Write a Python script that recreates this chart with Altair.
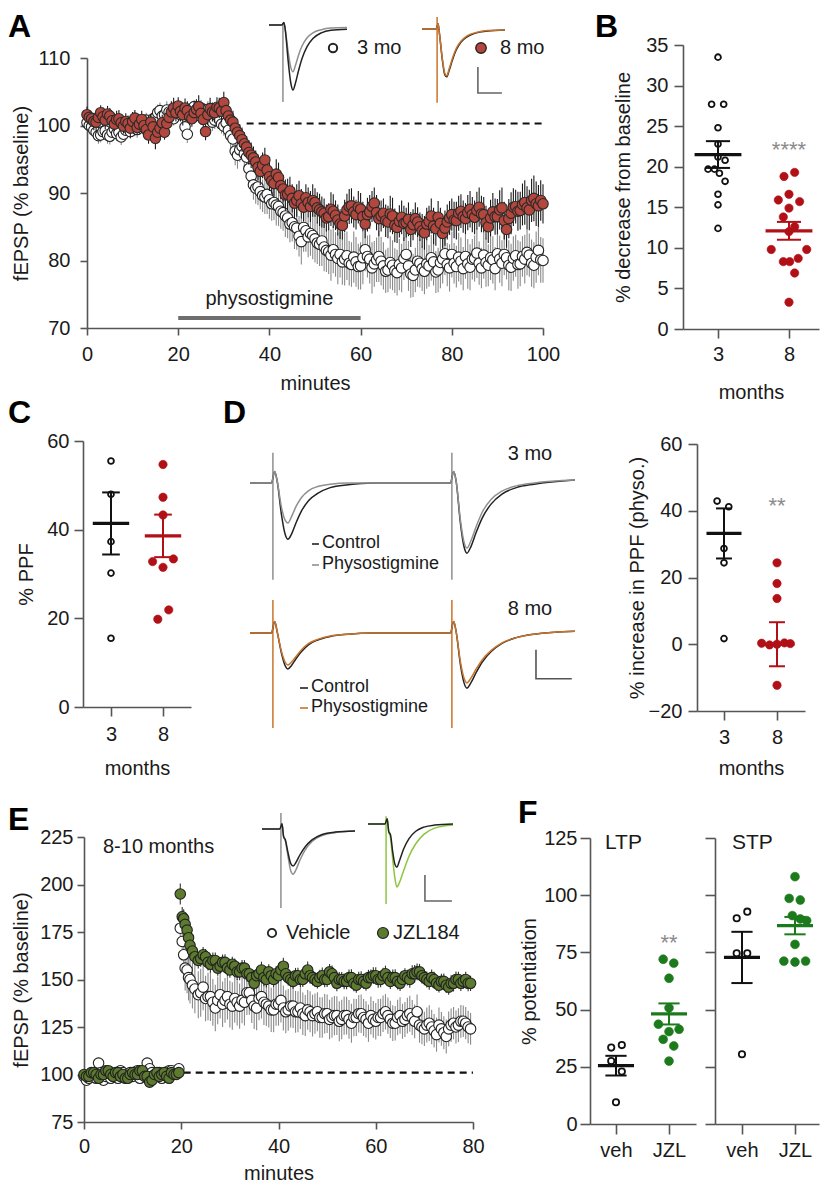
import altair as alt
import pandas as pd

FONT = "Liberation Sans"
INK = "#1a1a1a"
W, H = 812, 1170  # whole figure drawing area (page offset 8px)

# ================= Panel A: fEPSP time course (sampled every 0.5 min) =================
A_minutes = [i * 0.5 for i in range(201)]
A_3mo = [
    100.4, 100.0, 99.8, 99.3, 99.0, 98.5, 98.6, 99.1, 99.2, 98.6,
    98.4, 99.0, 99.5, 98.8, 99.0, 98.3, 98.7, 99.3, 99.6, 99.1,
    100.2, 99.7, 99.4, 100.0, 100.1, 100.6, 100.8, 100.1, 100.3, 101.0,
    101.2, 101.9, 102.2, 101.4, 101.6, 102.3, 102.0, 101.3, 101.0, 101.9,
    102.5, 101.6, 101.8, 99.8, 98.7, 101.4, 102.2, 102.8, 101.5, 102.1,
    102.6, 101.5, 101.9, 102.4, 101.2, 100.5, 100.8, 101.5, 100.9, 100.2,
    99.9, 100.4, 99.3, 98.5, 98.0, 96.2, 95.6, 96.4, 96.9, 95.8,
    95.3, 93.6, 92.5, 91.2, 90.7, 90.9, 90.2, 89.6, 89.4, 89.8,
    89.0, 88.4, 88.6, 88.2, 88.0, 87.3, 87.1, 86.6, 86.3, 85.4,
    85.6, 85.0, 84.8, 83.6, 82.8, 84.9, 84.4, 83.5, 84.0, 83.7,
    83.2, 82.6, 82.4, 82.9, 82.0, 81.5, 81.3, 80.8, 81.6, 80.9,
    80.3, 80.9, 79.8, 80.2, 80.7, 79.6, 79.4, 80.5, 79.8, 79.1,
    79.2, 80.4, 81.6, 80.6, 80.2, 78.9, 79.5, 80.1, 80.6, 79.9,
    79.2, 78.4, 78.6, 79.7, 79.3, 78.5, 78.2, 79.4, 78.9, 80.3,
    80.9, 79.2, 78.0, 77.8, 78.6, 79.9, 79.6, 78.8, 78.4, 79.5,
    79.2, 80.4, 79.8, 78.3, 78.6, 79.7, 80.2, 81.0, 79.4, 78.9,
    80.9, 79.6, 79.1, 80.5, 79.9, 78.8, 80.6, 79.5, 79.0, 80.2,
    80.3, 81.1, 79.6, 78.9, 80.8, 79.7, 79.3, 80.4, 80.1, 78.8,
    81.0, 80.2, 79.6, 80.9, 80.4, 79.3, 79.0, 80.3, 80.7, 79.4,
    79.5, 80.6, 80.2, 81.2, 80.8, 79.6, 79.3, 80.5, 81.5, 80.1,
    80.0,
]
A_3mo_sem = [
    0.9, 1.1, 1.0, 0.8, 0.8, 1.2, 1.1, 0.9, 0.9, 1.3,
    1.2, 0.9, 1.0, 1.1, 0.8, 1.2, 1.1, 0.9, 0.9, 1.0,
    1.0, 1.3, 1.2, 0.9, 0.9, 1.1, 1.1, 1.4, 1.3, 1.0,
    1.0, 1.2, 1.2, 0.9, 0.9, 1.3, 1.1, 1.0, 1.0, 1.2,
    1.2, 0.9, 1.0, 1.4, 1.3, 1.0, 1.1, 0.9, 0.9, 1.3,
    1.2, 1.0, 1.0, 1.2, 1.1, 1.3, 1.3, 1.1, 1.2, 1.4,
    1.4, 1.5, 1.6, 1.9, 1.8, 2.1, 2.0, 1.8, 1.9, 2.3,
    2.2, 2.5, 2.4, 2.2, 2.3, 2.7, 2.6, 2.4, 2.5, 2.9,
    2.8, 2.5, 2.6, 3.0, 2.9, 2.6, 2.7, 3.1, 3.0, 2.7,
    2.8, 3.3, 3.2, 3.0, 3.4, 3.6, 3.1, 3.0, 3.3, 3.5,
    3.5, 3.1, 3.2, 3.7, 3.6, 3.2, 3.3, 3.8, 3.5, 3.3,
    3.8, 3.4, 3.4, 3.9, 3.6, 3.3, 3.3, 3.8, 3.7, 3.4,
    3.5, 3.9, 3.2, 3.1, 3.6, 3.8, 3.4, 3.3, 3.8, 3.6,
    3.5, 3.2, 3.3, 3.9, 3.7, 3.3, 3.4, 3.8, 3.6, 3.2,
    3.2, 3.7, 3.5, 3.2, 3.3, 3.8, 3.6, 3.3, 3.4, 3.7,
    3.1, 3.4, 3.5, 3.1, 3.3, 3.8, 3.6, 3.2, 3.2, 3.5,
    3.4, 3.0, 3.1, 3.6, 3.5, 3.2, 3.3, 3.7, 3.4, 3.0,
    3.4, 3.7, 3.2, 3.0, 3.5, 3.6, 3.1, 3.3, 3.5, 3.2,
    3.0, 3.5, 3.4, 3.1, 3.2, 3.7, 3.5, 3.3, 3.1, 3.6,
    3.3, 3.0, 3.6, 3.4, 3.2, 3.5, 3.4, 3.8, 3.7, 3.4,
    3.3,
]
A_8mo = [
    101.6, 101.2, 101.0, 100.6, 100.5, 101.2, 101.9, 101.3, 100.8, 101.7,
    101.4, 100.7, 100.2, 100.9, 101.0, 100.4, 99.9, 100.6, 100.3, 99.6,
    100.6, 101.1, 99.7, 100.2, 100.9, 100.0, 99.4, 98.6, 100.5, 99.8,
    98.1, 99.0, 99.6, 100.4, 99.0, 100.3, 101.2, 102.0, 102.6, 101.9,
    102.9, 102.1, 101.6, 102.6, 102.2, 101.3, 101.0, 101.9, 102.4, 102.8,
    101.8, 100.9, 99.1, 101.6, 102.5, 102.0, 101.9, 102.7, 102.6, 102.1,
    103.4, 102.2, 101.4, 100.8, 100.5, 99.6, 99.0, 98.5, 97.9, 97.3,
    96.8, 96.0, 95.6, 95.2, 94.6, 93.8, 93.2, 94.1, 94.9, 93.4,
    92.4, 91.8, 91.4, 92.8, 92.3, 91.1, 90.6, 89.7, 89.8, 90.3,
    89.2, 88.5, 88.9, 89.6, 88.4, 87.9, 89.3, 88.6, 88.0, 88.9,
    88.6, 87.8, 87.5, 87.2, 87.0, 86.3, 86.5, 87.6, 87.3, 86.7,
    86.0, 85.4, 85.2, 86.6, 87.5, 88.0, 88.1, 87.2, 86.8, 87.9,
    87.6, 86.5, 85.4, 86.8, 87.2, 88.0, 88.5, 87.1, 86.2, 86.6,
    87.0, 85.9, 85.7, 86.9, 86.6, 85.2, 84.9, 85.8, 86.4, 85.5,
    85.6, 86.1, 84.6, 85.3, 86.2, 85.7, 85.0, 84.4, 84.1, 85.4,
    85.8, 86.6, 85.1, 84.7, 86.4, 85.5, 84.0, 84.8, 85.7, 86.3,
    86.8, 86.0, 85.9, 87.0, 87.3, 86.5, 86.2, 87.1, 87.6, 86.8,
    86.4, 87.4, 87.9, 86.9, 86.8, 85.6, 85.0, 86.3, 87.2, 86.5,
    86.5, 87.5, 87.8, 85.9, 84.6, 86.2, 87.0, 87.9, 88.0, 87.3,
    87.4, 88.3, 88.6, 87.8, 87.5, 88.9, 89.2, 88.4, 88.1, 88.9,
    88.4,
]
A_8mo_sem = [
    1.2, 1.1, 1.0, 1.3, 1.3, 1.0, 1.1, 1.4, 1.4, 1.2,
    1.2, 1.0, 1.0, 1.3, 1.3, 1.1, 1.1, 1.2, 1.2, 1.5,
    1.4, 1.2, 1.1, 1.4, 1.3, 1.5, 1.5, 1.3, 1.2, 1.4,
    1.6, 1.3, 1.3, 1.2, 1.1, 1.5, 1.4, 1.6, 1.5, 1.3,
    1.3, 1.5, 1.6, 1.4, 1.4, 1.2, 1.2, 1.6, 1.5, 1.7,
    1.7, 1.4, 1.3, 1.5, 1.6, 1.4, 1.4, 1.5, 1.5, 1.6,
    1.6, 1.5, 1.4, 1.6, 1.7, 1.6, 1.5, 1.7, 1.8, 1.7,
    1.6, 1.8, 1.9, 1.7, 1.7, 1.9, 2.0, 1.9, 1.8, 2.0,
    2.1, 1.9, 1.9, 2.2, 2.2, 2.0, 2.0, 2.3, 2.3, 2.1,
    2.1, 2.3, 2.4, 2.2, 2.2, 2.1, 2.0, 2.2, 2.3, 2.4,
    2.1, 2.3, 2.4, 2.3, 2.2, 2.0, 2.0, 2.5, 2.5, 2.2,
    2.3, 2.2, 2.1, 2.4, 2.4, 2.6, 2.6, 2.3, 2.2, 2.4,
    2.4, 2.2, 2.1, 2.5, 2.5, 2.3, 2.3, 2.6, 2.6, 2.3,
    2.2, 2.4, 2.4, 2.7, 2.7, 2.5, 2.3, 2.4, 2.5, 2.6,
    2.2, 2.5, 2.6, 2.3, 2.4, 2.2, 2.1, 2.5, 2.5, 2.4,
    2.3, 2.6, 2.7, 2.5, 2.4, 2.3, 2.2, 2.6, 2.6, 2.5,
    2.4, 2.7, 2.8, 2.6, 2.5, 2.4, 2.3, 2.6, 2.7, 2.6,
    2.5, 2.8, 2.9, 2.7, 2.6, 2.5, 2.4, 2.7, 2.8, 2.7,
    2.6, 2.9, 3.0, 2.8, 2.7, 2.9, 3.1, 2.8, 2.5, 2.9,
    2.8, 3.1, 3.3, 3.2, 3.0, 3.2, 3.4, 3.3, 3.1, 3.0,
    2.9,
]
A_baseline = {"from": [35], "to": [100], "level": [100.3]}
A_drug = {"start": [20], "end": [60], "level": [71.5], "label_level": [74.3], "label": ["physostigmine"]}

AL_t = [-5.8, -0.4, 0.4, 1.0, 2.2, 3.3, 4.2, 5.2, 6.5, 8.0, 10.0, 12.5, 16.0, 20.0, 26.7]
AL_ctrl = [0.0, 0.0, 0.05, -0.1, -0.7, -1.12, -1.25, -1.12, -0.88, -0.64, -0.42, -0.26, -0.15, -0.1, -0.08]
AL_phys = [0.0, 0.0, 0.05, -0.1, -0.52, -0.82, -0.9, -0.78, -0.58, -0.4, -0.25, -0.15, -0.09, -0.06, -0.05]
AL_art = {"t": [0.0], "top": [0.02], "bot": [-1.48]}
AR_t = [-6.3, -0.4, 0.4, 1.0, 2.2, 3.2, 4.0, 5.0, 6.5, 8.0, 10.0, 12.5, 16.0, 21.0, 28.3]
AR_ctrl = [0.0, 0.0, 0.1, -0.1, -0.6, -0.88, -0.92, -0.8, -0.58, -0.4, -0.25, -0.15, -0.08, -0.04, -0.02]
AR_phys = [0.0, 0.0, 0.1, -0.1, -0.58, -0.85, -0.9, -0.77, -0.55, -0.37, -0.23, -0.13, -0.07, -0.03, -0.02]
AR_art = {"t": [0.0], "top": [0.23], "bot": [-1.42]}
AR_bar = {"t": [17.0, 17.0, 27.0], "v": [-0.73, -1.23, -1.23]}

# ================= Panel B =================
B_3mo = [33.5, 27.7, 27.7, 24.8, 22.8, 21.2, 20.8, 19.7, 19.7, 19.2, 18.2, 16.6, 15.3, 12.4]
B_3mo_jit = [0, -0.09, 0.08, 0, 0, 0, 0.1, -0.14, -0.05, 0.02, 0.1, 0, 0, 0]
B_8mo = [18.8, 19.3, 15.9, 16.6, 15.7, 13.8, 14.9, 12.6, 12.0, 9.8, 8.3, 8.3, 8.7, 9.8, 6.9, 3.3]
B_8mo_jit = [-0.07, 0.08, -0.15, 0, 0.15, -0.08, 0.0, 0.08, 0.0, -0.25, -0.08, 0.01, 0.13, 0.25, 0.08, 0]
B_mean = [21.5, 12.1]
B_sem = [1.65, 1.1]

# ================= Panel C =================
C_3mo = [55.5, 48.0, 37.3, 30.2, 15.5]
C_3mo_jit = [0, 0, 0, 0, 0]
C_8mo = [54.7, 47.3, 43.3, 32.8, 33.4, 31.5, 19.8, 21.9]
C_8mo_jit = [0, 0, 0, -0.2, 0.2, 0, -0.1, 0.11]
C_mean = [41.4, 38.6]
C_sem = [7.0, 4.8]

# ================= Panel D traces (ms, mV) =================
D_t = [-6.4, -0.4, 0.5, 1.2, 2.4, 3.4, 4.2, 5.2, 6.5, 8.0, 10.0, 12.5, 16.0, 21.0, 28.0,
       49.6, 50.5, 51.2, 52.4, 53.4, 54.2, 55.3, 56.8, 58.5, 61.0, 64.0, 68.0, 73.0, 84.4]
D3_ctrl = [0.0, 0.0, 0.2, 0.03, -0.55, -0.88, -0.97, -0.88, -0.68, -0.48, -0.30, -0.18, -0.08, -0.03, 0.0,
           0.0, 0.2, 0.03, -0.7, -1.1, -1.21, -1.1, -0.85, -0.6, -0.36, -0.19, -0.08, -0.02, 0.05]
D3_phys = [0.0, 0.0, 0.2, 0.03, -0.42, -0.64, -0.69, -0.58, -0.40, -0.25, -0.13, -0.06, -0.02, 0.0, 0.0,
           0.0, 0.2, 0.03, -0.65, -1.02, -1.12, -1.0, -0.75, -0.5, -0.28, -0.14, -0.05, 0.0, 0.05]
D8_ctrl = [0.0, 0.0, 0.2, 0.02, -0.35, -0.56, -0.62, -0.56, -0.44, -0.32, -0.2, -0.12, -0.06, -0.02, 0.0,
           0.0, 0.2, 0.02, -0.55, -0.86, -0.95, -0.86, -0.68, -0.5, -0.32, -0.18, -0.08, -0.02, 0.03]
D8_phys = [0.0, 0.0, 0.2, 0.02, -0.32, -0.5, -0.55, -0.5, -0.4, -0.29, -0.18, -0.11, -0.05, -0.02, 0.0,
           0.0, 0.2, 0.02, -0.5, -0.78, -0.86, -0.78, -0.62, -0.46, -0.3, -0.17, -0.08, -0.02, 0.03]
D3_art = {"t": [0.0, 50.0], "top": [0.52, 0.52], "bot": [-1.67, -1.67]}
D8_art = {"t": [0.0, 50.0], "top": [0.57, 0.57], "bot": [-1.64, -1.64]}
D_bar = {"t": [73.5, 73.5, 83.5], "v": [-0.29, -0.79, -0.79]}

# ================= Panel D scatter =================
D_3mo = [42.9, 41.2, 28.7, 24.4, 1.7]
D_3mo_jit = [-0.13, 0.09, 0, 0, 0]
D_8mo = [24.4, 18.2, 13.7, 0.3, -0.2, 0.0, 0.4, 0.2, -12.3]
D_8mo_jit = [0, 0, 0, -0.29, -0.14, 0, 0.14, 0.25, 0]
D_mean = [33.2, 0.0]
D_sem = [7.5, 6.6]

# ================= Panel E: LTP time course =================
E_minutes = ([i * 0.5 for i in range(40)]
             + [19.8, 20.2, 20.5, 20.8, 21.2, 21.5, 21.8, 22.3, 22.8, 23.5]
             + [24 + i * 0.5 for i in range(112)])
E_veh = [
    99, 97, 98, 100, 100, 98, 106, 101, 97, 99,
    101, 98, 99, 100, 98, 102, 101, 99, 100, 101,
    99, 100, 102, 98, 100, 101, 106, 103, 101, 99,
    99, 101, 98, 100, 100, 102, 102, 100, 101, 103,
    177, 170, 163, 156, 155, 151, 150, 147, 145, 142,
    143, 146, 140, 141, 141, 138, 135, 139, 142, 137,
    139, 141, 137, 136, 140, 138, 136, 139, 138, 143,
    143, 139, 136, 135, 140, 141, 138, 137, 136, 134,
    134, 137, 137, 139, 135, 133, 134, 136, 136, 133,
    133, 135, 132, 131, 134, 133, 131, 132, 133, 130,
    130, 132, 132, 129, 130, 131, 131, 128, 129, 131,
    131, 129, 127, 130, 130, 132, 132, 130, 129, 127,
    131, 129, 128, 130, 130, 132, 133, 131, 129, 127,
    127, 130, 131, 128, 129, 131, 132, 130, 128, 133,
    126, 125, 124, 126, 127, 125, 123, 121, 126, 124,
    122, 120, 124, 126, 127, 125, 126, 128, 128, 127,
    125, 124,
]
E_veh_sem = [
    2.2, 2.4, 2.5, 2.1, 2.0, 2.6, 2.8, 2.3, 2.3, 2.0,
    2.1, 2.5, 2.6, 2.2, 2.4, 2.0, 2.0, 2.7, 2.7, 2.3,
    2.2, 2.4, 2.5, 2.1, 2.3, 2.6, 2.9, 2.4, 2.1, 2.2,
    2.4, 2.3, 2.6, 2.2, 2.2, 2.5, 2.5, 2.1, 2.3, 2.4,
    9.0, 10.0, 11.0, 11.8, 12.2, 12.0, 12.6, 12.2, 12.8, 12.4,
    12.6, 12.2, 12.0, 12.5, 12.8, 12.3, 12.2, 12.6, 12.5, 12.0,
    11.8, 12.1, 12.3, 12.5, 12.7, 12.2, 11.9, 12.0, 12.2, 11.7,
    11.6, 11.9, 12.1, 11.7, 11.4, 11.6, 11.9, 11.5, 11.2, 11.6,
    11.7, 11.4, 11.3, 11.6, 11.8, 11.3, 11.0, 11.2, 11.5, 11.0,
    10.8, 11.1, 11.2, 10.8, 10.5, 10.8, 11.0, 10.6, 10.3, 10.6,
    10.7, 10.4, 10.1, 10.4, 10.6, 10.3, 10.2, 10.5, 10.4, 10.1,
    9.9, 10.2, 10.3, 9.9, 9.7, 9.9, 10.1, 9.8, 9.5, 9.8,
    10.0, 9.7, 9.6, 9.8, 9.9, 9.6, 9.3, 9.5, 9.8, 9.4,
    9.1, 9.4, 9.6, 9.2, 9.2, 9.4, 9.5, 9.2, 8.9, 9.1,
    9.3, 9.1, 9.0, 9.2, 9.4, 9.1, 8.8, 9.0, 9.2, 8.9,
    8.7, 8.9, 9.1, 8.8, 8.5, 8.7, 8.9, 8.6, 8.3, 8.5,
    8.6, 8.4,
]
E_jzl = [
    100, 99, 99, 101, 101, 100, 98, 100, 100, 102,
    102, 100, 99, 101, 101, 99, 100, 98, 98, 100,
    101, 100, 100, 102, 102, 99, 99, 96, 97, 100,
    101, 99, 100, 101, 99, 98, 101, 100, 100, 101,
    195, 183, 182, 179, 176, 172, 168, 165, 162, 160,
    161, 163, 162, 159, 158, 160, 160, 156, 157, 159,
    159, 156, 155, 158, 157, 154, 154, 156, 156, 153,
    153, 151, 148, 152, 153, 155, 151, 150, 154, 152,
    150, 153, 152, 155, 157, 153, 151, 150, 149, 152,
    152, 150, 150, 153, 155, 152, 151, 150, 149, 151,
    152, 150, 150, 154, 153, 151, 148, 150, 150, 149,
    149, 151, 151, 148, 147, 150, 150, 149, 148, 151,
    151, 152, 152, 150, 150, 152, 153, 151, 149, 151,
    151, 149, 148, 150, 152, 151, 150, 153, 153, 154,
    154, 152, 151, 150, 149, 151, 150, 148, 147, 149,
    149, 147, 146, 148, 148, 150, 150, 148, 149, 150,
    148, 148,
]
E_jzl_sem = [
    2.0, 1.9, 1.8, 2.1, 2.2, 2.0, 1.9, 2.2, 2.1, 1.8,
    1.7, 2.0, 2.0, 2.3, 2.3, 1.9, 1.8, 2.1, 2.1, 1.9,
    1.9, 2.2, 2.2, 1.9, 2.0, 1.8, 1.8, 2.3, 2.4, 2.1,
    2.1, 1.9, 1.9, 2.0, 2.0, 2.2, 2.2, 1.9, 1.8, 2.0,
    5.5, 5.2, 5.0, 4.8, 4.6, 4.5, 4.4, 4.3, 4.4, 4.2,
    4.3, 4.1, 4.0, 4.3, 4.4, 4.2, 4.2, 4.0, 3.9, 4.2,
    4.3, 4.1, 4.1, 4.0, 4.0, 4.3, 4.4, 4.2, 4.2, 4.0,
    3.9, 4.2, 4.3, 4.1, 4.1, 4.4, 4.5, 4.2, 4.0, 4.1,
    4.2, 4.0, 3.8, 4.1, 4.4, 4.3, 4.1, 4.0, 3.9, 4.1,
    4.2, 4.0, 4.0, 4.3, 4.5, 4.2, 4.1, 3.9, 3.8, 4.1,
    4.3, 4.1, 4.0, 4.2, 4.4, 4.3, 4.2, 4.0, 3.9, 4.1,
    4.1, 4.3, 4.4, 4.2, 4.0, 4.1, 4.3, 4.0, 3.9, 4.1,
    4.2, 4.4, 4.5, 4.3, 4.1, 4.2, 4.3, 4.1, 4.0, 4.2,
    4.4, 4.2, 4.1, 4.0, 3.9, 4.1, 4.3, 4.5, 4.6, 4.4,
    4.2, 4.1, 4.0, 4.2, 4.4, 4.3, 4.1, 3.9, 3.8, 4.0,
    4.2, 4.1, 4.0, 4.2, 4.3, 4.2, 4.1, 4.0, 3.9, 4.1,
    4.2, 4.0,
]
E_baseline = {"from": [20.5], "to": [80], "level": [101]}

EL_t = [-7.0, -0.4, 0.4, 1.0, 1.6, 2.6, 3.6, 4.5, 5.6, 7.0, 9.0, 11.5, 15.0, 20.0, 27.4]
EL_ctrl = [0.0, 0.0, 0.1, -0.15, -0.2, -0.45, -0.66, -0.71, -0.64, -0.5, -0.34, -0.21, -0.11, -0.06, -0.04]
EL_post = [0.0, 0.0, 0.1, -0.15, -0.22, -0.52, -0.8, -0.87, -0.78, -0.6, -0.4, -0.24, -0.13, -0.07, -0.04]
EL_art = {"t": [0.0], "top": [0.31], "bot": [-1.52]}
ER_t = [-6.7, -0.4, 0.4, 1.0, 1.6, 2.5, 3.3, 4.0, 5.0, 6.5, 8.5, 11.0, 14.0, 18.0, 24.8]
ER_ctrl = [0.0, 0.0, 0.1, -0.15, -0.2, -0.55, -0.78, -0.83, -0.7, -0.48, -0.28, -0.14, -0.06, -0.02, 0.0]
ER_post = [0.0, 0.0, 0.1, -0.15, -0.25, -0.7, -1.05, -1.21, -1.12, -0.9, -0.62, -0.38, -0.2, -0.08, -0.02]
ER_art = {"t": [0.0], "top": [0.15], "bot": [-1.54]}
ER_bar = {"t": [14.4, 14.4, 24.4], "v": [-0.98, -1.48, -1.48]}

# ================= Panel F =================
LTP_veh = [33.4, 34.5, 27.5, 22.9, 9.5]
LTP_veh_jit = [-0.09, 0.11, -0.09, 0.11, 0]
LTP_jzl = [72.0, 70.3, 63.7, 50.8, 43.6, 40.4, 41.4, 37.0, 34.1, 27.5]
LTP_jzl_jit = [-0.11, 0.09, 0, 0, -0.2, 0, 0.19, -0.11, 0.09, 0]
LTP_mean = [25.5, 48.1]
LTP_sem = [4.3, 4.6]
STP_veh = [89.9, 92.8, 74.6, 74.6, 30.5]
STP_veh_jit = [-0.1, 0.1, -0.1, 0.1, 0]
STP_jzl = [108.1, 98.6, 97.9, 91.1, 89.6, 88.9, 78.5, 71.2, 70.8, 71.2]
STP_jzl_jit = [0, -0.11, 0.1, -0.05, 0.1, 0.22, 0, -0.21, 0, 0.2]
STP_mean = [72.8, 86.7]
STP_sem = [11.2, 3.8]

# ================= colours =================
RED_A = "#b3463d"
OLIVE = "#5c7b2e"
RED = "#b01016"
GREEN = "#1c7a1c"
GRAY_TR = "#8f8f8f"
ORANGE = "#c8742c"
LGREEN = "#8cc63f"
STAR = "#8a8a8a"
U = alt.Undefined


# ================= helpers =================
def one():
    return alt.Data(values=[{}])


def txt(s, x, y, size=20, color=INK, align="left", baseline="middle", weight="normal"):
    return alt.Chart(one()).mark_text(
        text=s, font=FONT, fontSize=size, color=color, align=align,
        baseline=baseline, fontWeight=weight
    ).encode(x=alt.value(x), y=alt.value(y))


def letter(ch, x, y):
    return txt(ch, x, y, size=32, color="black", baseline="top", weight="bold")


def glyph(x, y, fill, stroke, size, sw):
    return alt.Chart(one()).mark_point(
        shape="circle", filled=True, fill=fill, stroke=stroke, strokeWidth=sw, size=size, opacity=1
    ).encode(x=alt.value(x), y=alt.value(y))


def dash(x1, x2, y, color):
    return alt.Chart(one()).mark_rule(color=color, strokeWidth=1.6).encode(
        x=alt.value(x1), x2=alt.value(x2), y=alt.value(y))


def axes(xr, yr, xkw, ykw):
    ax_x = alt.Axis(orient="bottom", offset=yr[0] - H, **xkw)
    ax_y = alt.Axis(orient="left", offset=-xr[0], **ykw)
    return ax_x, ax_y


def trace(t, v, color, xs, ys, width=1.5):
    df = pd.DataFrame({"t": t, "v": v})
    return alt.Chart(df).mark_line(color=color, strokeWidth=width, interpolate="monotone").encode(
        x=alt.X("t:Q", scale=xs, axis=None), y=alt.Y("v:Q", scale=ys, axis=None))


def artifact(d, color, xs, ys, width=1.5):
    df = pd.DataFrame(d)
    return alt.Chart(df).mark_rule(color=color, strokeWidth=width).encode(
        x=alt.X("t:Q", scale=xs, axis=None), y=alt.Y("top:Q", scale=ys, axis=None), y2="bot:Q")


def scalebar(d, xs, ys, color="#666666"):
    df = pd.DataFrame(d)
    df["i"] = range(len(df))
    return alt.Chart(df).mark_line(color=color, strokeWidth=1.6).encode(
        x=alt.X("t:Q", scale=xs, axis=None), y=alt.Y("v:Q", scale=ys, axis=None),
        order=alt.Order("i:Q"))


def ts_pair(t, v, sem, xs, ys, fill, stroke, errc, size=110, ax_x=U, ax_y=U):
    df = pd.DataFrame({"t": t, "v": v, "sem": sem})
    err = (alt.Chart(df)
           .transform_calculate(lo="datum.v - datum.sem", hi="datum.v + datum.sem")
           .mark_rule(color=errc, strokeWidth=1.1)
           .encode(x=alt.X("t:Q", scale=xs, axis=ax_x),
                   y=alt.Y("lo:Q", scale=ys, axis=ax_y), y2="hi:Q"))
    pts = (alt.Chart(df)
           .mark_point(shape="circle", filled=True, fill=fill, stroke=stroke,
                       strokeWidth=1.1, size=size, opacity=1)
           .encode(x=alt.X("t:Q", scale=xs), y=alt.Y("v:Q", scale=ys)))
    return [err, pts]


def hline(d, xs, ys, color="#111111", width=2.2):
    df = pd.DataFrame(d)
    return alt.Chart(df).mark_rule(color=color, strokeWidth=width, strokeDash=[7, 5]).encode(
        x=alt.X("from:Q", scale=xs), x2="to:Q", y=alt.Y("level:Q", scale=ys))


def dot_panel(v0, j0, v1, j1, means, sems, col0, col1, xdom, xr, ydom, yr, xkw, ykw,
              bar_half, cap_half, star=None, osize=34, fsize=70):
    xs = alt.Scale(domain=xdom, range=xr, nice=False, zero=False)
    ys = alt.Scale(domain=ydom, range=yr, nice=False, zero=False)
    ax_x, ax_y = axes(xr, yr, xkw, ykw)
    layers = []
    for g, (vals, jit, col) in enumerate([(v0, j0, col0), (v1, j1, col1)]):
        df = pd.DataFrame({"g": [g] * len(vals), "v": vals, "jit": jit})
        if g == 0:
            mk = dict(fill="white", stroke=col, strokeWidth=1.8, size=osize)
        else:
            mk = dict(fill=col, stroke=col, strokeWidth=0.6, size=fsize)
        layers.append(
            alt.Chart(df).transform_calculate(pos="datum.g + datum.jit")
            .mark_point(shape="circle", filled=True, opacity=1, **mk)
            .encode(x=alt.X("pos:Q", scale=xs, axis=ax_x if g == 0 else U),
                    y=alt.Y("v:Q", scale=ys, axis=ax_y if g == 0 else U)))
    for g, col in enumerate([col0, col1]):
        mdf = pd.DataFrame({"g": [g], "m": [means[g]], "s": [sems[g]]})
        base = alt.Chart(mdf).transform_calculate(
            lo="datum.m - datum.s", hi="datum.m + datum.s",
            b1=f"datum.g - {bar_half}", b2=f"datum.g + {bar_half}",
            c1=f"datum.g - {cap_half}", c2=f"datum.g + {cap_half}")
        layers += [
            base.mark_rule(strokeWidth=2, color=col).encode(
                x=alt.X("g:Q", scale=xs), y=alt.Y("lo:Q", scale=ys), y2="hi:Q"),
            base.mark_rule(strokeWidth=2, color=col).encode(
                x=alt.X("c1:Q", scale=xs), x2="c2:Q", y=alt.Y("lo:Q", scale=ys)),
            base.mark_rule(strokeWidth=2, color=col).encode(
                x=alt.X("c1:Q", scale=xs), x2="c2:Q", y=alt.Y("hi:Q", scale=ys)),
            base.mark_rule(strokeWidth=3.2, color=col).encode(
                x=alt.X("b1:Q", scale=xs), x2="b2:Q", y=alt.Y("m:Q", scale=ys)),
        ]
    if star is not None:
        sdf = pd.DataFrame({"g": [star[1]], "y": [star[2]], "lab": [star[0]]})
        layers.append(alt.Chart(sdf).mark_text(font=FONT, fontSize=22, color=STAR, baseline="middle", dy=6)
                      .encode(x=alt.X("g:Q", scale=xs), y=alt.Y("y:Q", scale=ys), text="lab:N"))
    return alt.layer(*layers)


# ================= Panel A =================
xrA, yrA = [79, 535], [320, 50]
xA = alt.Scale(domain=[0, 100], range=xrA, nice=False, zero=False)
yA = alt.Scale(domain=[70, 110], range=yrA, nice=False, zero=False)
axA_x, axA_y = axes(xrA, yrA,
                    dict(values=[0, 20, 40, 60, 80, 100], title="minutes", titleY=45, tickSize=7, labelPadding=9),
                    dict(values=[70, 80, 90, 100, 110], title="fEPSP (% baseline)", titleX=-56, tickSize=7,
                         labelPadding=10))
drug_df = pd.DataFrame(A_drug)
A_main = alt.layer(
    *ts_pair(A_minutes, A_3mo, A_3mo_sem, xA, yA, "white", "#222222", "#8a8a8a", ax_x=axA_x, ax_y=axA_y),
    hline(A_baseline, xA, yA),
    *ts_pair(A_minutes, A_8mo, A_8mo_sem, xA, yA, RED_A, "#2a2a2a", "#1a1a1a"),
    alt.Chart(drug_df).mark_rule(color="#6e6e6e", strokeWidth=4).encode(
        x=alt.X("start:Q", scale=xA), x2="end:Q", y=alt.Y("level:Q", scale=yA)),
    alt.Chart(drug_df).transform_calculate(mid="(datum.start + datum.end) / 2")
    .mark_text(font=FONT, fontSize=20, color=INK, baseline="middle")
    .encode(x=alt.X("mid:Q", scale=xA), y=alt.Y("label_level:Q", scale=yA), text="label:N"),
)
xAL = alt.Scale(domain=[-5.8, 26.7], range=[261, 339], nice=False, zero=False)
yAL = alt.Scale(domain=[-1.6, 0.4], range=[100.2, -3.8], nice=False, zero=False)
xAR = alt.Scale(domain=[-6.3, 28.3], range=[414, 497], nice=False, zero=False)
yAR = alt.Scale(domain=[-1.6, 0.4], range=[104.2, 0.2], nice=False, zero=False)
A_insL = alt.layer(
    artifact(AL_art, GRAY_TR, xAL, yAL),
    trace(AL_t, AL_phys, GRAY_TR, xAL, yAL),
    trace(AL_t, AL_ctrl, "#222222", xAL, yAL),
)
A_insR = alt.layer(
    artifact(AR_art, ORANGE, xAR, yAR),
    trace(AR_t, AR_ctrl, "#222222", xAR, yAR),
    trace(AR_t, AR_phys, ORANGE, xAR, yAR),
    scalebar(AR_bar, xAR, yAR),
)

# ================= Panel B =================
panelB = dot_panel(
    B_3mo, B_3mo_jit, B_8mo, B_8mo_jit, B_mean, B_sem, "#111111", RED,
    [-0.493, 1.423], [675, 811], [0, 35], [321, 37],
    dict(values=[0, 1], labelExpr="datum.value < 0.5 ? '3' : '8'", title="months", titleY=53,
         tickSize=9, labelPadding=6),
    dict(values=[0, 5, 10, 15, 20, 25, 30, 35], title="% decrease from baseline", titleX=-50,
         tickSize=9, labelPadding=6),
    0.33, 0.17, star=("****", 1, 22.8),
)

# ================= Panel C =================
panelC = dot_panel(
    C_3mo, C_3mo_jit, C_8mo, C_8mo_jit, C_mean, C_sem, "#111111", RED,
    [-0.538, 1.538], [75, 183], [0, 60], [699, 433],
    dict(values=[0, 1], labelExpr="datum.value < 0.5 ? '3' : '8'", title="months", titleY=51,
         tickSize=9, labelPadding=8),
    dict(values=[0, 20, 40, 60], title="% PPF", titleX=-47, tickSize=9, labelPadding=5),
    0.35, 0.17,
)

# ================= Panel D traces =================
xD = alt.Scale(domain=[-6.4, 84.4], range=[242, 567], nice=False, zero=False)
yDt = alt.Scale(domain=[-2, 1], range=[591, 417], nice=False, zero=False)
yDb = alt.Scale(domain=[-2, 1], range=[741, 567], nice=False, zero=False)
D_top = alt.layer(
    artifact(D3_art, GRAY_TR, xD, yDt),
    trace(D_t, D3_ctrl, "#222222", xD, yDt),
    trace(D_t, D3_phys, GRAY_TR, xD, yDt),
)
D_bot = alt.layer(
    artifact(D8_art, ORANGE, xD, yDb),
    trace(D_t, D8_ctrl, "#222222", xD, yDb),
    trace(D_t, D8_phys, ORANGE, xD, yDb),
    scalebar(D_bar, xD, yDb, color="#555555"),
)

# ================= Panel D scatter =================
panelDsc = dot_panel(
    D_3mo, D_3mo_jit, D_8mo, D_8mo_jit, D_mean, D_sem, "#111111", RED,
    [-0.509, 1.528], [689, 797], [-20, 60], [703, 436],
    dict(values=[0, 1], labelExpr="datum.value < 0.5 ? '3' : '8'", title="months", titleY=47,
         tickSize=9, labelPadding=7),
    dict(values=[-20, 0, 20, 40, 60], title="% increase in PPF (physo.)", titleX=-50,
         tickSize=9, labelPadding=6),
    0.33, 0.15, star=("**", 1, 43.2),
)

# ================= Panel E =================
xrE, yrE = [76, 465], [1114, 829]
xE = alt.Scale(domain=[0, 80], range=xrE, nice=False, zero=False)
yE = alt.Scale(domain=[75, 225], range=yrE, nice=False, zero=False)
axE_x, axE_y = axes(xrE, yrE,
                    dict(values=[0, 20, 40, 60, 80], title="minutes", titleY=41, tickSize=7, labelPadding=7),
                    dict(values=[75, 100, 125, 150, 175, 200, 225], title="fEPSP (% baseline)", titleX=-53,
                         tickSize=7, labelPadding=4))
E_main = alt.layer(
    *ts_pair(E_minutes, E_veh, E_veh_sem, xE, yE, "white", "#222222", "#8a8a8a", ax_x=axE_x, ax_y=axE_y),
    hline(E_baseline, xE, yE),
    *ts_pair(E_minutes, E_jzl, E_jzl_sem, xE, yE, OLIVE, "#222222", "#333333"),
)
xEL = alt.Scale(domain=[-7.0, 27.4], range=[254, 347], nice=False, zero=False)
yEL = alt.Scale(domain=[-1.6, 0.4], range=[904.2, 800.2], nice=False, zero=False)
xER = alt.Scale(domain=[-6.7, 24.8], range=[360, 445], nice=False, zero=False)
yER = alt.Scale(domain=[-1.6, 0.4], range=[899.2, 795.2], nice=False, zero=False)
E_insL = alt.layer(
    artifact(EL_art, GRAY_TR, xEL, yEL),
    trace(EL_t, EL_post, GRAY_TR, xEL, yEL),
    trace(EL_t, EL_ctrl, "#222222", xEL, yEL),
)
E_insR = alt.layer(
    artifact(ER_art, LGREEN, xER, yER),
    trace(ER_t, ER_post, LGREEN, xER, yER),
    trace(ER_t, ER_ctrl, "#222222", xER, yER),
    scalebar(ER_bar, xER, yER),
)

# ================= Panel F =================
panelLTP = dot_panel(
    LTP_veh, LTP_veh_jit, LTP_jzl, LTP_jzl_jit, LTP_mean, LTP_sem, "#111111", GREEN,
    [-0.49, 1.509], [582, 688], [0, 125], [1116, 830],
    dict(values=[0, 1], labelExpr="datum.value < 0.5 ? 'veh' : 'JZL'", title=None,
         tickSize=10, labelPadding=6),
    dict(values=[0, 25, 50, 75, 100, 125], title="% potentiation", titleX=-51, tickSize=10, labelPadding=3),
    0.34, 0.2, star=("**", 1, 81.9), osize=40, fsize=78,
)
panelSTP = dot_panel(
    STP_veh, STP_veh_jit, STP_jzl, STP_jzl_jit, STP_mean, STP_sem, "#111111", GREEN,
    [-0.509, 1.453], [707, 811], [0, 125], [1116, 830],
    dict(values=[0, 1], labelExpr="datum.value < 0.5 ? 'veh' : 'JZL'", title=None,
         tickSize=10, labelPadding=6),
    dict(values=[0, 25, 50, 75, 100, 125], labels=False, title=None, tickSize=10),
    0.34, 0.2, osize=40, fsize=78,
)

# ================= annotations =================
notes = [
    # A
    glyph(325, 40, "white", "#222222", 70, 2), txt("3 mo", 349, 40),
    glyph(473, 40, RED_A, "#222222", 110, 1.3), txt("8 mo", 492, 40),
    letter("A", 0, 4), letter("B", 587, 4),
    # C / D
    letter("C", 0, 390), letter("D", 215, 390),
    txt("3 mo", 522, 446, align="center"), txt("8 mo", 522, 601, align="center"),
    dash(304, 311, 536, "#222222"), txt("Control", 314, 535, size=18),
    dash(304, 311, 557, GRAY_TR), txt("Physostigmine", 314, 556, size=18),
    dash(292, 300, 680, "#222222"), txt("Control", 303, 679, size=18),
    dash(292, 300, 700, ORANGE), txt("Physostigmine", 303, 699, size=18),
    # E
    letter("E", 0, 797), txt("8-10 months", 95, 839),
    glyph(264, 925, "white", "#222222", 70, 1.8), txt("Vehicle", 278, 925),
    glyph(375, 925, OLIVE, "#222222", 120, 1.2), txt("JZL184", 385, 925),
    # F
    letter("F", 510, 790), txt("LTP", 597, 835, size=21), txt("STP", 724, 835, size=21),
]

chart = alt.layer(
    A_main, A_insL, A_insR, panelB, panelC, D_top, D_bot, panelDsc,
    E_main, E_insL, E_insR, panelLTP, panelSTP, *notes,
).resolve_scale(x="independent", y="independent").properties(
    width=W, height=H, padding=0
).configure_axis(
    grid=False,
    domainColor="#555555", tickColor="#555555", domainWidth=1.6, tickWidth=1.6,
    labelFont=FONT, titleFont=FONT, labelFontSize=20, titleFontSize=20,
    labelColor=INK, titleColor=INK, titleFontWeight="normal",
    labelFlush=False, labelOverlap=False,
).configure_view(stroke=None)

chart.save("out.html", embed_options={"renderer": "svg", "actions": False})
